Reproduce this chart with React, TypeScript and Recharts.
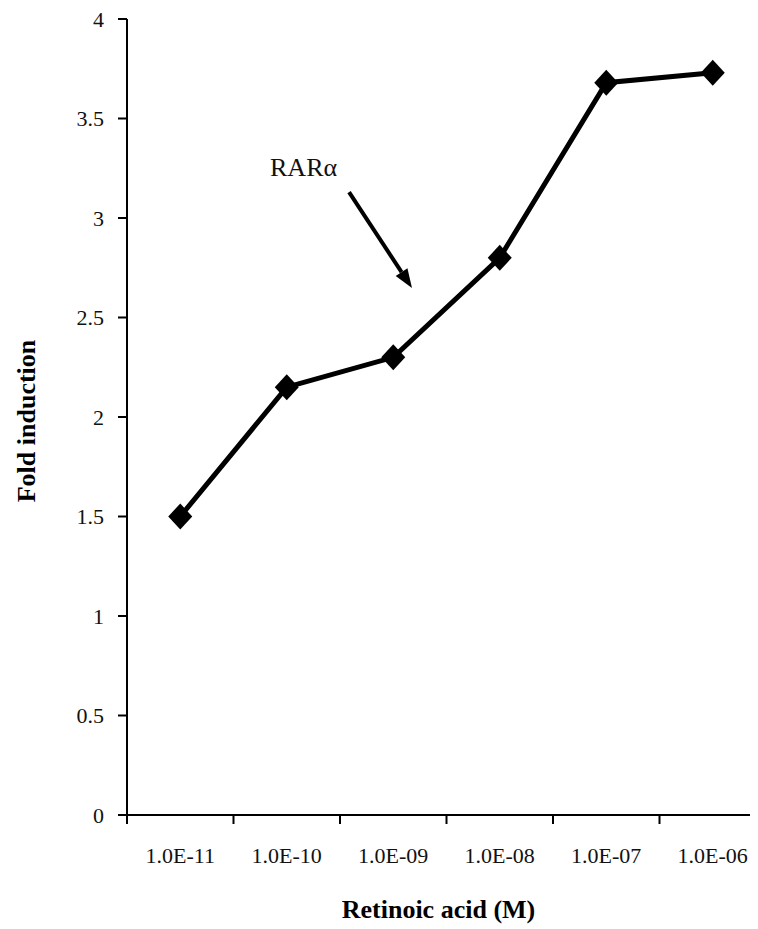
import React from 'react';
import {
  LineChart,
  Line,
  XAxis,
  YAxis,
  ReferenceLine,
  ReferenceDot,
  Label,
} from 'recharts';

// ---------------------------------------------------------------------------
// Data
// ---------------------------------------------------------------------------

const CONCENTRATIONS = ['1.0E-11', '1.0E-10', '1.0E-09', '1.0E-08', '1.0E-07', '1.0E-06'];
const FOLD_INDUCTION = [1.5, 2.15, 2.3, 2.8, 3.68, 3.73];
const Y_TICKS = [0, 0.5, 1, 1.5, 2, 2.5, 3, 3.5, 4];

// category boundaries (tick marks) and centres (labels)
const BOUNDARY_TICKS = [0, 1, 2, 3, 4, 5, 6];
const CENTER_TICKS = CONCENTRATIONS.map((_, i) => i + 0.5);

// annotation, in data space of the chart
const ARROW_FROM = { x: 2.085, y: 3.13 };
const ARROW_TO = { x: 2.676, y: 2.648 };
const ANNOTATION_AT = { x: 1.343, y: 3.21 };

const data = CONCENTRATIONS.map((c, i) => ({
  pos: i + 0.5,
  conc: c,
  value: FOLD_INDUCTION[i],
}));

const FONT = '"Liberation Serif", "Times New Roman", serif';

// ---------------------------------------------------------------------------
// Custom shapes
// ---------------------------------------------------------------------------

const Diamond = (props: any) => {
  const { cx, cy, index } = props;
  if (cx == null || cy == null) return <g key={index} />;
  return (
    <polygon
      key={index}
      points={`${cx},${cy - 13} ${cx + 12},${cy} ${cx},${cy + 13} ${cx - 12},${cy}`}
      fill="#000"
    />
  );
};

const Arrow = (props: any) => {
  const { x1, y1, x2, y2 } = props;
  const dx = x2 - x1;
  const dy = y2 - y1;
  const len = Math.sqrt(dx * dx + dy * dy) || 1;
  const ux = dx / len;
  const uy = dy / len;
  const headLen = 19;
  const headW = 7;
  const bx = x2 - ux * headLen;
  const by = y2 - uy * headLen;
  return (
    <g>
      <line x1={x1} y1={y1} x2={bx} y2={by} stroke="#000" strokeWidth={4} />
      <polygon
        points={`${x2},${y2} ${bx - uy * headW},${by + ux * headW} ${bx + uy * headW},${by - ux * headW}`}
        fill="#000"
      />
    </g>
  );
};

// ---------------------------------------------------------------------------
// Component
// ---------------------------------------------------------------------------

export default function App() {
  return (
    <div style={{ width: 750, height: 921, overflow: 'hidden' }}>
      <LineChart
        width={770}
        height={921}
        data={data}
        margin={{ top: 11, right: 12, left: 0, bottom: 0 }}
      >
        <XAxis
          xAxisId="labels"
          type="number"
          dataKey="pos"
          domain={[0, 6]}
          allowDataOverflow
          ticks={CENTER_TICKS}
          interval={0}
          tickFormatter={(v: number) => CONCENTRATIONS[Math.floor(v)]}
          height={113}
          tickSize={0}
          tickMargin={31}
          axisLine={false}
          tickLine={false}
          tick={{ fontFamily: FONT, fontSize: 22, fill: '#111' }}
        >
          <Label
            content={(p: any) => {
              const vb = p.viewBox || {};
              return (
                <text
                  x={vb.x + vb.width / 2 - 8}
                  y={vb.y + 102}
                  textAnchor="middle"
                  fontFamily={FONT}
                  fontSize={26}
                  fontWeight="bold"
                  fill="#000"
                >
                  Retinoic acid (M)
                </text>
              );
            }}
          />
        </XAxis>
        <XAxis
          xAxisId="axisMarks"
          type="number"
          dataKey="pos"
          domain={[0, 6]}
          allowDataOverflow
          ticks={BOUNDARY_TICKS}
          interval={0}
          tickFormatter={() => ''}
          height={1}
          tickSize={9}
          axisLine={{ stroke: '#000', strokeWidth: 2 }}
          tickLine={{ stroke: '#000', strokeWidth: 2 }}
        />
        <YAxis
          type="number"
          domain={[0, 4]}
          ticks={Y_TICKS}
          interval={0}
          width={119}
          tickSize={9}
          tickMargin={14}
          axisLine={{ stroke: '#000', strokeWidth: 2 }}
          tickLine={{ stroke: '#000', strokeWidth: 2 }}
          tick={{ fontFamily: FONT, fontSize: 22, fill: '#111' }}
        >
          <Label
            content={(p: any) => {
              const vb = p.viewBox || {};
              const x = 27;
              const y = vb.y + vb.height / 2 + 4;
              return (
                <text
                  x={x}
                  y={y}
                  transform={`rotate(-90, ${x}, ${y})`}
                  textAnchor="middle"
                  fontFamily={FONT}
                  fontSize={26}
                  fontWeight="bold"
                  fill="#000"
                >
                  Fold induction
                </text>
              );
            }}
          />
        </YAxis>
        <Line
          xAxisId="labels"
          type="linear"
          dataKey="value"
          stroke="#000"
          strokeWidth={5}
          dot={Diamond}
          activeDot={false}
          isAnimationActive={false}
        />
        <ReferenceLine
          xAxisId="axisMarks"
          segment={[ARROW_FROM, ARROW_TO]}
          shape={Arrow}
        />
        <ReferenceDot
          xAxisId="axisMarks"
          x={ANNOTATION_AT.x}
          y={ANNOTATION_AT.y}
          shape={(p: any) => (
            <text x={p.cx} y={p.cy} fontFamily={FONT} fontSize={26} fill="#111">
              RARα
            </text>
          )}
        />
      </LineChart>
    </div>
  );
}
